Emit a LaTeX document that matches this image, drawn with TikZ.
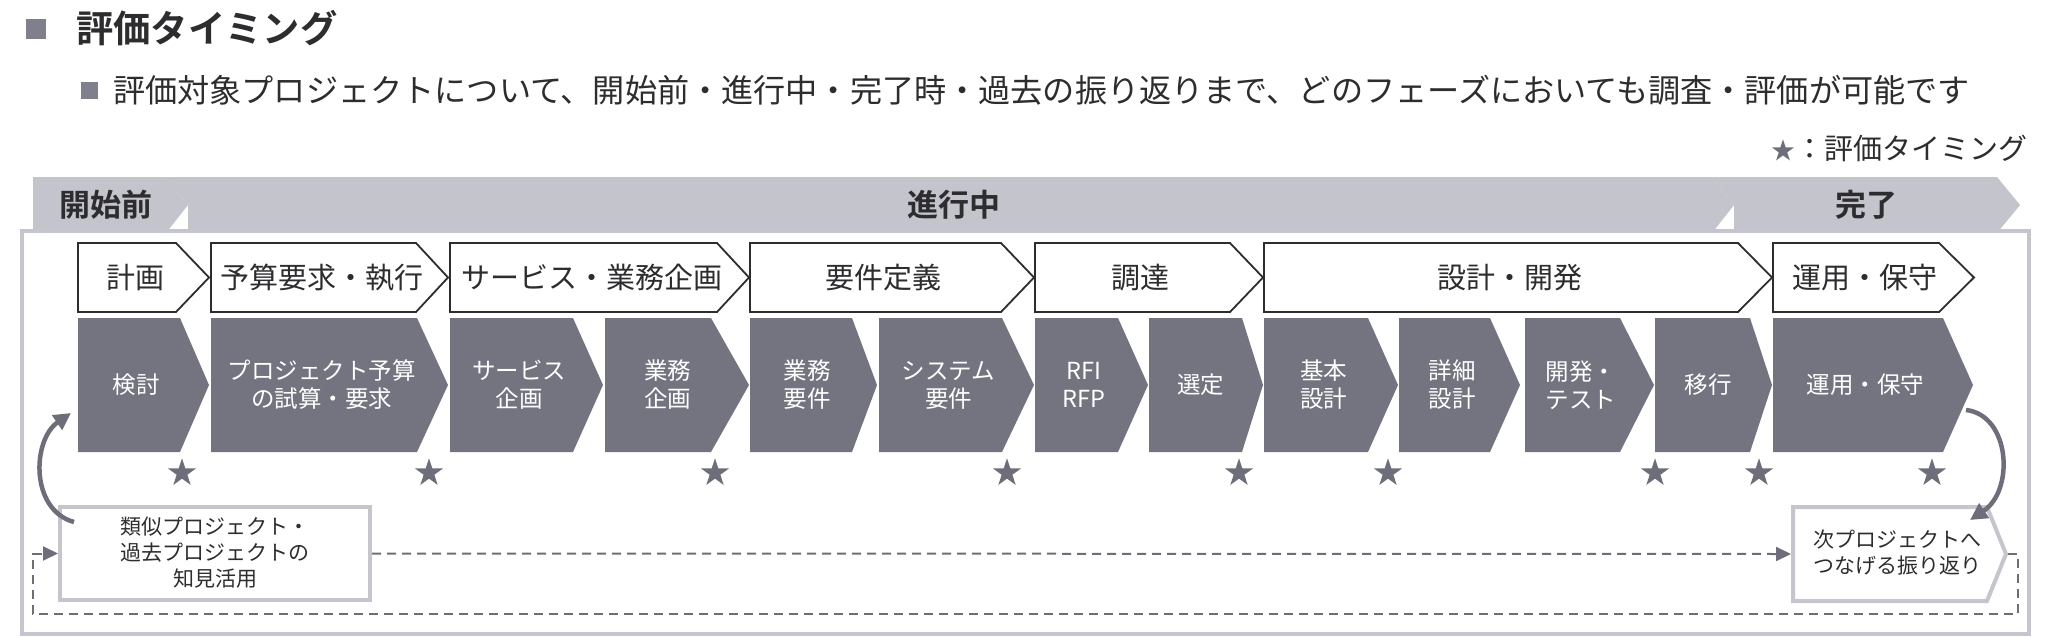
\documentclass[tikz,border=0pt]{standalone}
\usepackage{fontspec}
\setmainfont{Noto Sans CJK JP}[BoldFont={Noto Sans CJK JP Bold}]
\usetikzlibrary{shapes.geometric,arrows.meta}
\definecolor{darkc}{RGB}{116,116,128}
\definecolor{starc}{RGB}{110,110,122}
\definecolor{bandc}{RGB}{195,196,204}
\definecolor{framec}{RGB}{196,197,205}
\definecolor{txtc}{RGB}{45,45,48}
\definecolor{sqc}{RGB}{128,128,140}
\newcommand\fs[2]{\fontsize{#1}{#2}\selectfont}
\newcommand\dchev[5]{%
  \fill[darkc] (#2,318) -- (#3,318) -- (#4,385) -- (#3,452) -- (#2,452) -- cycle;
  \node[dtext] (#1) at ({(#2+(#3+#4)/2)/2},385) {#5};}
\newcommand\wchev[5]{%
  \draw[wline] (#2,243) -- (#3,243) -- (#4,277.5) -- (#3,312) -- (#2,312) -- cycle;
  \node[wtext] (#1) at ({(#2+(#3+#4)/2)/2},277.5) {#5};}
\begin{document}
\begin{tikzpicture}[x=1pt,y=-1pt,
  dtext/.style={text=white, font=\fs{23.5}{28}, align=center, inner sep=0},
  wtext/.style={text=txtc, font=\fs{29}{34}, inner sep=0},
  wline/.style={draw=txtc, line width=1.8, fill=white, line join=miter},
  bandtxt/.style={text=txtc, font=\bfseries\fs{31}{36}, inner sep=0},
  starnode/.style={star, star points=5, star point ratio=2.618, minimum size=29.5, inner sep=0, fill=starc},
  boxtxt/.style={text=txtc, font=\fs{21}{26}, align=center, inner sep=0},
  dashln/.style={draw=starc, line width=2, dash pattern=on 9pt off 6pt},
  tipA/.style={-{Triangle[length=15pt,width=14pt]}},
  curvarrow/.style={draw=starc, line width=4.5, -{Triangle[length=17pt,width=17pt]}}
]
\useasboundingbox (0,0) rectangle (2048,637);
\fill[white] (0,0) rectangle (2048,637);
% header
\node[fill=sqc, minimum size=20, inner sep=0] (sq1) at (36,29) {};
\node[anchor=west, font=\bfseries\fs{37.3}{44}, text=txtc, inner sep=0] (title) at (76,28) {評価タイミング};
\node[fill=sqc, minimum size=17, inner sep=0] (sq2) at (89.5,90) {};
\node[anchor=west, font=\fs{32.15}{38}, text=txtc, inner sep=0] (sub) at (113,90) {評価対象プロジェクトについて、開始前・進行中・完了時・過去の振り返りまで、どのフェーズにおいても調査・評価が可能です};
\node[anchor=east, font=\fs{29}{34}, text=txtc, inner sep=0] (legend) at (2028,148) {{\fs{24}{30}\textcolor{starc}{★}}：評価タイミング};
% phase band
\fill[bandc] (33,177) -- (166,177) -- (188,205) -- (166,233) -- (33,233) -- cycle;
\fill[bandc] (166,177) -- (1712,177) -- (1734,205) -- (1712,233) -- (188,233) -- (188,205) -- cycle;
\fill[bandc] (1712,177) -- (1997,177) -- (2020,205) -- (1997,233) -- (1734,233) -- (1734,205) -- cycle;
% frame
\draw[framec, line width=4, fill=white] (22,231) rectangle (2029,634);
\node[bandtxt] (p1) at (106,205) {開始前};
\node[bandtxt] (p2) at (954,205) {進行中};
\node[bandtxt] (p3) at (1866,205) {完了};
% white chevrons
\wchev{w1}{78}{176}{209}{計画}
\wchev{w2}{211}{416}{448}{予算要求・執行}
\wchev{w3}{450}{717}{749}{サービス・業務企画}
\wchev{w4}{750}{1001}{1034}{要件定義}
\wchev{w5}{1035}{1230}{1263}{調達}
\wchev{w6}{1264}{1738}{1772}{設計・開発}
\wchev{w7}{1773}{1939}{1974}{運用・保守}
% dark chevrons
\dchev{d1}{78}{180}{209}{検討}
\dchev{d2}{211}{417}{448}{プロジェクト予算\\の試算・要求}
\dchev{d3}{450}{573}{603}{サービス\\企画}
\dchev{d4}{605}{711}{749}{業務\\企画}
\dchev{d5}{750}{852}{877}{業務\\要件}
\dchev{d6}{879}{1002}{1034}{システム\\要件}
\dchev{d7}{1035}{1118}{1148}{RFI\\RFP}
\dchev{d8}{1149}{1242}{1263}{選定}
\dchev{d9}{1264}{1368}{1398}{基本\\設計}
\dchev{d10}{1399}{1490}{1520}{詳細\\設計}
\dchev{d11}{1525}{1620}{1654}{開発・\\テスト}
\dchev{d12}{1655}{1750}{1772}{移行}
\dchev{d13}{1773}{1943}{1973}{運用・保守}
% stars
\foreach \sx [count=\i] in {182,429,715,1007,1239,1388,1655,1759,1932}
  \node[starnode] (s\i) at (\sx,473) {};
% bottom boxes
\node[draw=framec, line width=4, fill=white, minimum width=310, minimum height=93, inner sep=0] (lbox) at (215,553.5) {};
\node[boxtxt] (ltxt) at (215,553) {類似プロジェクト・\\過去プロジェクトの\\知見活用};
\draw[framec, line width=4, fill=white] (1793,507) -- (1987,507) -- (2006,554) -- (1987,601) -- (1793,601) -- cycle;
\node[boxtxt] (rtxt) at (1897,553) {次プロジェクトへ\\つなげる振り返り};
\coordinate (rbw) at (1791,554);
\coordinate (rbtip) at (2008,554);
\coordinate (rp) at (2018,614);
\coordinate (lp) at (33,614);
% dashed connectors
\draw[dashln, tipA] (lbox.east) -- (rbw);
\draw[dashln, tipA] (rbtip) -| (rp) -- (lp) |- (lbox.west);
% curved arrows
\coordinate (la) at (74,522);
\coordinate (lend) at (71,413);
\coordinate (ra) at (1966,410);
\coordinate (rend) at (1970,520);
\draw[curvarrow] (la) .. controls (30,510) and (32,440) .. (lend);
\draw[curvarrow] (ra) .. controls (2010,415) and (2015,490) .. (rend);
\end{tikzpicture}
\end{document}
